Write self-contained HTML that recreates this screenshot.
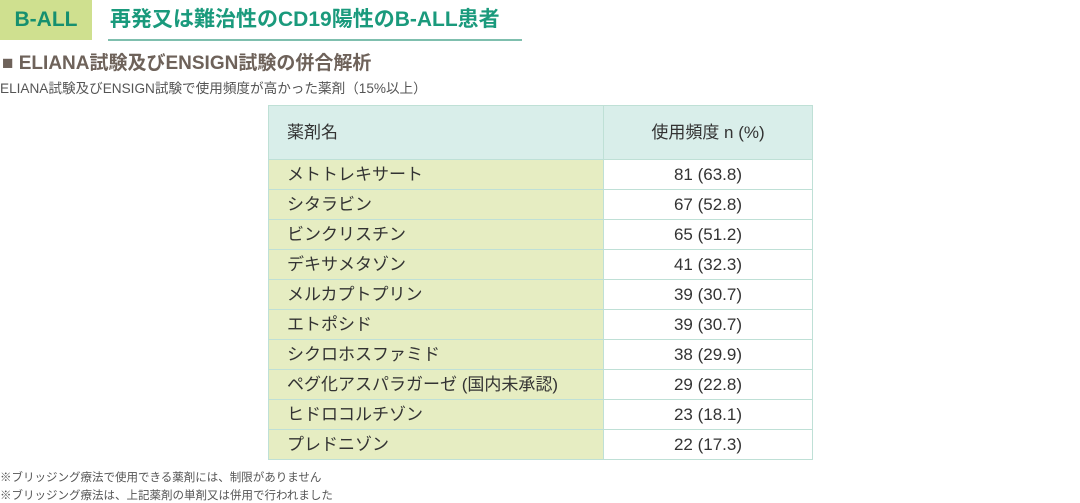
<!DOCTYPE html>
<html><head><meta charset="utf-8"><style>
body{margin:0;width:1080px;height:502px;background:#fff;font-family:"Liberation Sans","Noto Sans CJK JP",sans-serif;position:relative;overflow:hidden;color:#444}
.tag{position:absolute;left:0;top:0;width:92px;height:40px;background:#cfe08f;color:#16906f;font-weight:bold;font-size:21px;line-height:40px;text-align:center}
.title{position:absolute;left:110px;top:4px;font-size:21px;font-weight:bold;color:#1a9a7c;line-height:32px}
.line{position:absolute;left:108px;top:39px;width:414px;height:2px;background:#7fbfae}
.h2{position:absolute;left:2px;top:52px;font-size:19px;font-weight:bold;color:#6e625a;line-height:24px}
.sub{position:absolute;left:0;top:80px;font-size:13.6px;color:#555;line-height:18px}
table{position:absolute;left:268px;top:105px;border-collapse:collapse;font-size:17px;color:#333}
td{border:1px solid #bfe0d6;height:29px;padding:0;line-height:29px}
td.l{width:335px;background:#e6edc2;padding-left:18px;box-sizing:border-box}
td.r{width:208px;text-align:center}
tr.h td{height:53px;background:#d9eeea}
.fn{position:absolute;left:0;font-size:11.5px;color:#555}
</style></head><body>
<div class="tag">B-ALL</div>
<div class="title">再発又は難治性のCD19陽性のB-ALL患者</div>
<div class="line"></div>
<div class="h2">■ ELIANA試験及びENSIGN試験の併合解析</div>
<div class="sub">ELIANA試験及びENSIGN試験で使用頻度が高かった薬剤（15%以上）</div>
<table>
<tr class="h"><td class="l">薬剤名</td><td class="r">使用頻度 n (%)</td></tr>
<tr><td class="l">メトトレキサート</td><td class="r">81 (63.8)</td></tr>
<tr><td class="l">シタラビン</td><td class="r">67 (52.8)</td></tr>
<tr><td class="l">ビンクリスチン</td><td class="r">65 (51.2)</td></tr>
<tr><td class="l">デキサメタゾン</td><td class="r">41 (32.3)</td></tr>
<tr><td class="l">メルカプトプリン</td><td class="r">39 (30.7)</td></tr>
<tr><td class="l">エトポシド</td><td class="r">39 (30.7)</td></tr>
<tr><td class="l">シクロホスファミド</td><td class="r">38 (29.9)</td></tr>
<tr><td class="l">ペグ化アスパラガーゼ (国内未承認)</td><td class="r">29 (22.8)</td></tr>
<tr><td class="l">ヒドロコルチゾン</td><td class="r">23 (18.1)</td></tr>
<tr><td class="l">プレドニゾン</td><td class="r">22 (17.3)</td></tr>
</table>
<div class="fn" style="top:469px">※ブリッジング療法で使用できる薬剤には、制限がありません</div>
<div class="fn" style="top:487px">※ブリッジング療法は、上記薬剤の単剤又は併用で行われました</div>
</body></html>
